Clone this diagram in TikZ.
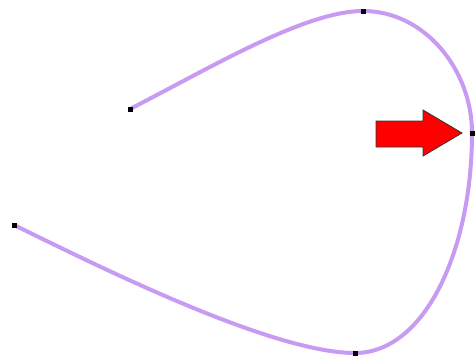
\documentclass[tikz,border=0pt]{standalone}
\definecolor{curvepurple}{RGB}{200,155,242}
\definecolor{arrowred}{RGB}{255,0,0}
\tikzset{
  curveline/.style={draw=curvepurple,line width=4pt,line cap=round},
  marker/.style={fill=black,inner sep=0pt,minimum size=5pt,draw=none,rectangle},
  bigarrow/.style={fill=arrowred,draw=black!80,line width=0.8pt,line join=miter}
}
\begin{document}
\begin{tikzpicture}[x=1pt,y=-1pt]
\useasboundingbox (0,0) rectangle (475,362);
\coordinate (p0) at (130,109);
\coordinate (p1) at (363,11);
\coordinate (p2) at (472,133);
\coordinate (p3) at (355,353);
\coordinate (p4) at (14,225);
\draw[curveline] (p0) .. controls (210,68) and (305,11) .. (p1)
  .. controls (425,11) and (472,70) .. (p2)
  .. controls (472,250) and (425,353) .. (p3)
  .. controls (270,353) and (90,262) .. (p4);
\foreach \p in {p0,p1,p2,p3,p4} \node[marker] (m\p) at (\p) {};
\draw[bigarrow] (376,121) -- (423,121) -- (423,110) -- (462,133) -- (423,156) -- (423,147) -- (376,147) -- cycle;
\end{tikzpicture}
\end{document}
